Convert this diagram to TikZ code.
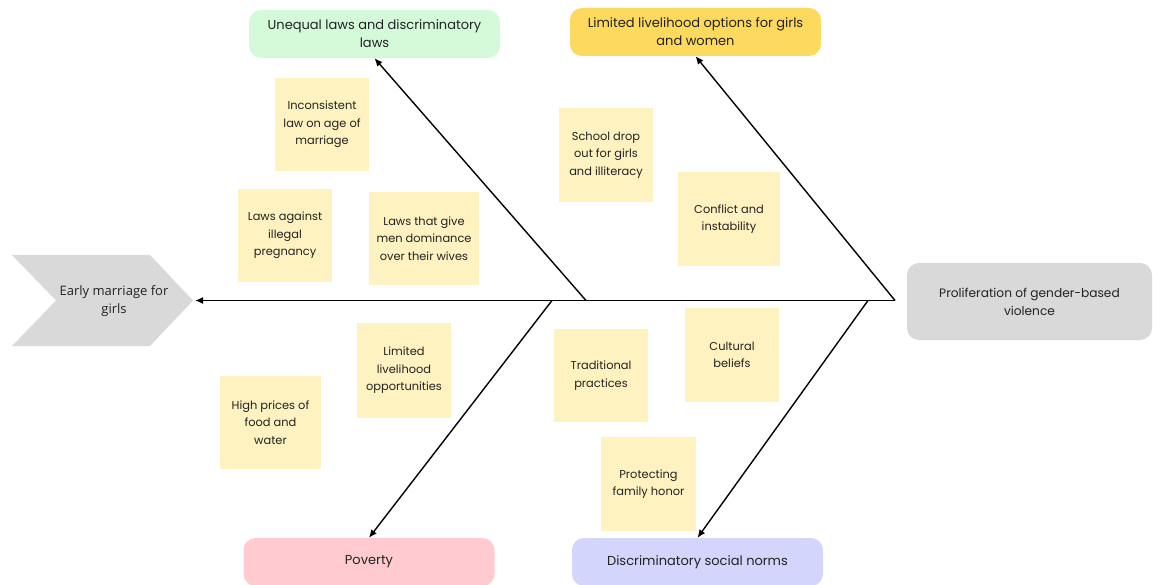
\documentclass[tikz,border=0pt]{standalone}
\usepackage{fontspec}
\setmainfont{Poppins}
\newfontfamily\chevfont{Open Sans}
\usetikzlibrary{arrows.meta}
\definecolor{stickyc}{HTML}{FEF2C0}
\definecolor{greenc}{HTML}{D5FAD9}
\definecolor{yellowc}{HTML}{FDD95D}
\definecolor{pinkc}{HTML}{FFCBD0}
\definecolor{lavc}{HTML}{D3D5FD}
\definecolor{grayc}{HTML}{D9D9D9}
\definecolor{txtc}{HTML}{222222}
\tikzset{
  sticky/.style={fill=stickyc, draw=none, align=center, text=txtc,
    font=\fontsize{11.4}{17.5}\selectfont, inner sep=2pt},
  catbox/.style={draw=none, rounded corners=12pt, align=center, text=txtc,
    minimum width=251pt, minimum height=48pt,
    font=\fontsize{13}{18}\selectfont, inner sep=2pt},
  bone/.style={line width=1.4pt, -{Latex[length=8pt,width=7pt]}},
}
\begin{document}
\begin{tikzpicture}[x=1pt,y=-1pt]
\useasboundingbox (0,0) rectangle (1153,585);

% chevron (effect)
\fill[grayc] (12,255) -- (150,255) -- (193,300.5) -- (150,346) -- (12,346) -- (56,300.5) -- cycle;
\node[align=center, text=txtc, font=\chevfont\fontsize{13}{18}\selectfont] (chev) at (114,301) {Early marriage for\\girls};
\coordinate (chevtip) at (195,300.5);

% head
\node[catbox, fill=grayc, minimum width=245pt, minimum height=77pt, font=\fontsize{12.2}{18}\selectfont] (head) at (1029.5,301.5) {Proliferation of gender-based\\violence};
\coordinate (spstart) at (895,300.5);

% categories
\node[catbox, fill=greenc] (cat1) at (374.5,34) {Unequal laws and discriminatory\\laws};
\node[catbox, fill=yellowc] (cat2) at (695.5,32) {Limited livelihood options for girls\\and women};
\node[catbox, fill=pinkc] (cat3) at (369,562) {Poverty};
\node[catbox, fill=lavc] (cat4) at (697.5,562) {Discriminatory social norms};

% spine
\draw[bone] (spstart) -- (chevtip);

% bones
\coordinate (j1) at (586,300.5);
\coordinate (j2) at (895,300.5);
\coordinate (j3) at (552,300.5);
\coordinate (j4) at (868,300.5);
\draw[bone] (j1) -- (cat1.south);
\draw[bone] (j2) -- (cat2.south);
\draw[bone] (j3) -- (cat3.north);
\draw[bone] (j4) -- (cat4.north);

% stickies
\node[sticky, minimum width=94pt, minimum height=93pt] (s1) at (322,124.5) {Inconsistent\\law on age of\\marriage};
\node[sticky, minimum width=94pt, minimum height=93pt] (s2) at (285,235.5) {Laws against\\illegal\\pregnancy};
\node[sticky, minimum width=110pt, minimum height=93pt] (s3) at (424,238.5) {Laws that give\\men dominance\\over their wives};
\node[sticky, minimum width=94pt, minimum height=94pt] (s4) at (606,155) {School drop\\out for girls\\and illiteracy};
\node[sticky, minimum width=102pt, minimum height=94pt] (s5) at (729,219) {Conflict and\\instability};
\node[sticky, minimum width=94pt, minimum height=95pt] (s6) at (404,370.5) {Limited\\livelihood\\opportunities};
\node[sticky, minimum width=101pt, minimum height=93pt] (s7) at (270.5,422.5) {High prices of\\food and\\water};
\node[sticky, minimum width=94pt, minimum height=93pt] (s8) at (601,375.5) {Traditional\\practices};
\node[sticky, minimum width=94pt, minimum height=94pt] (s9) at (732,355) {Cultural\\beliefs};
\node[sticky, minimum width=95pt, minimum height=94pt] (s10) at (648.5,484) {Protecting\\family honor};
\end{tikzpicture}
\end{document}
